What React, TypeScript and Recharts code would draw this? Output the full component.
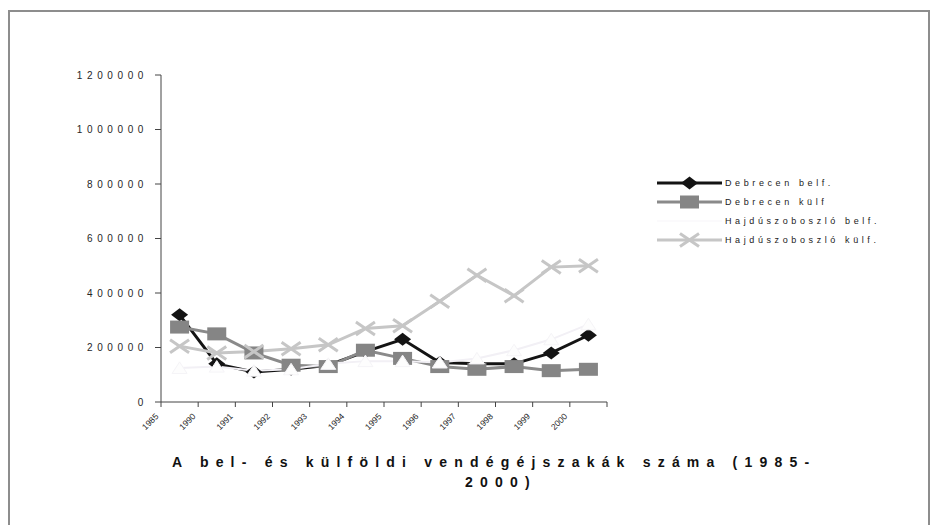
import React from 'react';
import { LineChart, Line, XAxis, YAxis, Legend } from 'recharts';

const years = ['1985', '1990', '1991', '1992', '1993', '1994', '1995', '1996', '1997', '1998', '1999', '2000'];
const debrecenBelf = [320000, 140000, 110000, 120000, 135000, 185000, 230000, 145000, 140000, 140000, 180000, 245000];
const debrecenKulf = [275000, 250000, 180000, 135000, 130000, 190000, 160000, 130000, 120000, 130000, 115000, 120000];
const hajduBelf = [125000, 130000, 115000, 120000, 140000, 150000, 150000, 145000, 160000, 190000, 230000, 285000];
const hajduKulf = [205000, 180000, 185000, 195000, 210000, 270000, 280000, 370000, 465000, 390000, 495000, 500000];
const yTicks = [0, 200000, 400000, 600000, 800000, 1000000, 1200000];
const seriesNames = ['Debrecen belf.', 'Debrecen külf', 'Hajdúszoboszló belf.', 'Hajdúszoboszló külf.'];
const titleLine1 = 'A bel- és külföldi vendégéjszakák száma (1985-';
const titleLine2 = '2000)';

const data = years.map((year, i) => ({
  year,
  db: debrecenBelf[i],
  dk: debrecenKulf[i],
  hb: hajduBelf[i],
  hk: hajduKulf[i],
}));

const FONT = '"Liberation Sans", Arial, sans-serif';
const W = 933;
const H = 525;
const PLOT_LEFT = 161;
const PLOT_RIGHT = 607;
const PLOT_TOP = 75;
const PLOT_BOTTOM = 402;
const Y_AXIS_W = 100;
const X_AXIS_H = 40;
const BAND = (PLOT_RIGHT - PLOT_LEFT) / years.length;

const COLORS = {
  db: '#141414',
  dk: '#8a8a8a',
  dkMarker: '#858585',
  hb: '#f2f0f5',
  hk: '#c6c6c6',
};

const diamond = (cx: number, cy: number, key?: any) => (
  <path key={key} d={`M${cx},${cy - 6.5} L${cx + 8.5},${cy} L${cx},${cy + 6.5} L${cx - 8.5},${cy} Z`} fill={COLORS.db} />
);
const square = (cx: number, cy: number, key?: any) => (
  <rect key={key} x={cx - 9.5} y={cy - 6.5} width={19} height={13} fill={COLORS.dkMarker} />
);
const triangle = (cx: number, cy: number, key?: any) => (
  <path key={key} d={`M${cx},${cy - 6} L${cx + 7.5},${cy + 5.5} L${cx - 7.5},${cy + 5.5} Z`} fill="#fdfdfd" stroke="#f5f4f7" strokeWidth={1} />
);
const cross = (cx: number, cy: number, key?: any) => (
  <g key={key}>
    <line x1={cx - 9.5} y1={cy - 6.5} x2={cx + 9.5} y2={cy + 6.5} stroke={COLORS.hk} strokeWidth={3} />
    <line x1={cx - 9.5} y1={cy + 6.5} x2={cx + 9.5} y2={cy - 6.5} stroke={COLORS.hk} strokeWidth={3} />
  </g>
);

const dotOf = (fn: (cx: number, cy: number, key?: any) => any) => (p: any) => fn(p.cx, p.cy, `d-${p.index}`);

const YTick = (props: any) => {
  const { x, y, payload } = props;
  return (
    <text x={x} y={y} dy={3.6} textAnchor="end" fontSize={10} letterSpacing={4.6} fill="#262626" fontFamily={FONT}>
      {payload.value}
    </text>
  );
};

const XTick = (props: any) => {
  const { x, y, payload, index, visibleTicksCount } = props;
  const xb = x - BAND / 2;
  const ax = xb - 2;
  const ay = y + 15;
  const isLast = index === (visibleTicksCount ?? years.length) - 1;
  return (
    <g>
      <line x1={xb} y1={y} x2={xb} y2={y + 5} stroke="#444" strokeWidth={1} />
      {isLast && <line x1={x + BAND / 2} y1={y} x2={x + BAND / 2} y2={y + 5} stroke="#444" strokeWidth={1} />}
      <text x={ax} y={ay} textAnchor="end" fontSize={8.5} fill="#1e1e1e" fontFamily={FONT} transform={`rotate(-45 ${ax} ${ay})`}>
        {payload.value}
      </text>
    </g>
  );
};

const legendSamples = [
  { color: COLORS.db, width: 3, marker: diamond },
  { color: COLORS.dk, width: 3, marker: square },
  { color: '#fbfafc', width: 2, marker: null },
  { color: COLORS.hk, width: 3, marker: cross },
];

const LegendContent = () => (
  <div style={{ fontFamily: FONT }}>
    {seriesNames.map((name, i) => {
      const s = legendSamples[i];
      return (
        <div key={name} style={{ display: 'flex', alignItems: 'center', height: 18.8 }}>
          <svg width={70} height={16} style={{ display: 'block' }}>
            <line x1={2} y1={8} x2={67} y2={8} stroke={s.color} strokeWidth={s.width} />
            {s.marker && s.marker(34.5, 8)}
          </svg>
          <span style={{ fontSize: 9, letterSpacing: 3.6, color: '#222', whiteSpace: 'nowrap', lineHeight: '12px' }}>{name}</span>
        </div>
      );
    })}
  </div>
);

export default function App() {
  return (
    <div style={{ position: 'absolute', left: 0, top: 0, width: W, height: H, background: '#fff', overflow: 'hidden', fontFamily: FONT }}>
      <div
        style={{
          position: 'absolute',
          left: 8,
          top: 10,
          width: 922,
          height: 540,
          borderLeft: '2px solid #8d8d8d',
          borderTop: '2px solid #8d8d8d',
          borderRight: '2px solid #8d8d8d',
          boxSizing: 'border-box',
        }}
      />
      <LineChart
        width={W}
        height={H}
        data={data}
        margin={{ top: PLOT_TOP, right: W - PLOT_RIGHT, bottom: H - PLOT_BOTTOM - X_AXIS_H, left: PLOT_LEFT - Y_AXIS_W }}
      >
        <XAxis
          dataKey="year"
          interval={0}
          height={X_AXIS_H}
          padding={{ left: BAND / 2, right: BAND / 2 }}
          tickLine={false}
          tickSize={0}
          tickMargin={0}
          axisLine={{ stroke: '#444', strokeWidth: 1 }}
          tick={XTick}
        />
        <YAxis
          width={Y_AXIS_W}
          domain={[0, 1200000]}
          ticks={yTicks}
          interval={0}
          tickSize={6}
          tickMargin={7}
          tickLine={{ stroke: '#444', strokeWidth: 1 }}
          axisLine={{ stroke: '#444', strokeWidth: 1 }}
          tick={YTick}
        />
        <Legend
          layout="vertical"
          align="center"
          verticalAlign="middle"
          wrapperStyle={{ left: 655, top: 174, width: 270 }}
          content={LegendContent}
        />
        <Line type="linear" dataKey="db" name={seriesNames[0]} stroke={COLORS.db} strokeWidth={3} dot={dotOf(diamond)} activeDot={false} isAnimationActive={false} />
        <Line type="linear" dataKey="dk" name={seriesNames[1]} stroke={COLORS.dk} strokeWidth={3} dot={dotOf(square)} activeDot={false} isAnimationActive={false} />
        <Line type="linear" dataKey="hb" name={seriesNames[2]} stroke={COLORS.hb} strokeWidth={2} dot={dotOf(triangle)} activeDot={false} isAnimationActive={false} />
        <Line type="linear" dataKey="hk" name={seriesNames[3]} stroke={COLORS.hk} strokeWidth={3} dot={dotOf(cross)} activeDot={false} isAnimationActive={false} />
      </LineChart>
      <div
        style={{
          position: 'absolute',
          left: 172,
          top: 452,
          fontSize: 14,
          fontWeight: 'bold',
          letterSpacing: 7.2,
          whiteSpace: 'nowrap',
          lineHeight: '20px',
          color: '#111',
        }}
      >
        {titleLine1}
      </div>
      <div
        style={{
          position: 'absolute',
          left: 397,
          width: 208,
          top: 472,
          fontSize: 14,
          fontWeight: 'bold',
          letterSpacing: 7.2,
          textAlign: 'center',
          whiteSpace: 'nowrap',
          lineHeight: '20px',
          color: '#111',
        }}
      >
        {titleLine2}
      </div>
    </div>
  );
}
